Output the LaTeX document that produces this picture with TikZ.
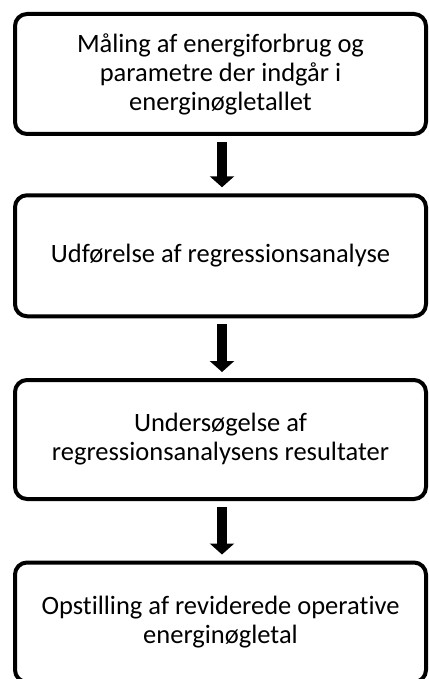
\documentclass[tikz,border=0pt]{standalone}
\usepackage{fontspec}
\setmainfont{Carlito}[Ligatures={NoCommon}]
\usetikzlibrary{arrows.meta}
\tikzset{
  stepbox/.style={draw=black, line width=4pt, rounded corners=12pt, outer sep=0pt,
    minimum width=411pt, align=center, inner sep=0pt,
    font=\fontsize{26.5}{29}\selectfont},
  bigarrow/.style={line width=10pt, -{Triangle[width=24pt,length=11pt]},
    shorten <=8pt, shorten >=8pt}
}
\begin{document}
\begin{tikzpicture}[x=1pt,y=-1pt]
\useasboundingbox (0,0) rectangle (428,679);
\node[stepbox, minimum height=120pt] (b1) at (220.5,74) {Måling af energiforbrug og\\parametre der indgår i\\energinøgletallet};
\node[stepbox, minimum height=121pt] (b2) at (220.5,255.75) {Udførelse af regressionsanalyse};
\node[stepbox, minimum height=119pt] (b3) at (220.5,439.5) {Undersøgelse af\\regressionsanalysens resultater};
\node[stepbox, minimum height=119.5pt] (b4) at (220.5,622.25) {Opstilling af reviderede operative\\energinøgletal};
\draw[bigarrow] ([xshift=1.5pt]b1.south) -- ([xshift=1.5pt]b2.north);
\draw[bigarrow] ([xshift=1.5pt]b2.south) -- ([xshift=1.5pt]b3.north);
\draw[bigarrow] ([xshift=1.5pt]b3.south) -- ([xshift=1.5pt]b4.north);
\end{tikzpicture}
\end{document}
